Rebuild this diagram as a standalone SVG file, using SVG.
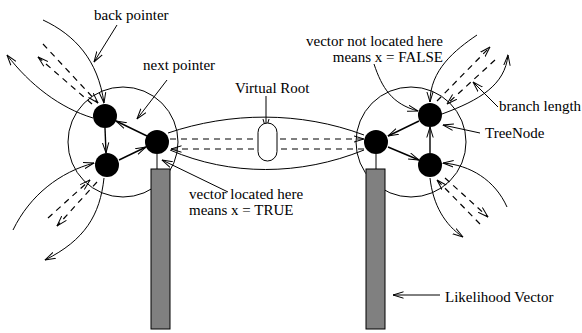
<svg xmlns="http://www.w3.org/2000/svg" width="582" height="333" viewBox="0 0 582 333">
<defs>
<marker id="ah" viewBox="0 0 11 8" refX="10.5" refY="4" markerWidth="11" markerHeight="8" markerUnits="userSpaceOnUse" orient="auto">
<path d="M0,0.8 L10.5,4 L0,7.2" fill="none" stroke="#000" stroke-width="1"/>
</marker>
<style>
.c{fill:none;stroke:#000;stroke-width:1}
.t{fill:none;stroke:#000;stroke-width:1.4}
.d{fill:none;stroke:#000;stroke-width:1.2;stroke-dasharray:6,5}
.a{marker-end:url(#ah)}
.ring{fill:none;stroke:#000;stroke-width:1}
.dot{fill:#000}
.bar{fill:#808080;stroke:#000;stroke-width:1}
.cap{fill:#fff;stroke:#000;stroke-width:1}
text{font-family:"Liberation Serif","Times New Roman",serif;font-size:15px;fill:#000}
</style>
</defs>
<rect width="582" height="333" fill="#fff"/>

<g id="clusters">
<circle class="ring" cx="123" cy="142" r="55"/>
<circle class="ring" cx="411" cy="142" r="55"/>
</g>

<g id="connectors">
<!-- left cluster internal -->
<line class="t a" x1="105" y1="128" x2="106" y2="153"/>
<line class="t a" x1="119" y1="160" x2="146" y2="147"/>
<line class="t a" x1="147" y1="136" x2="116" y2="121"/>
<line class="c" x1="157" y1="154" x2="157" y2="169"/>
<!-- right cluster internal -->
<line class="t a" x1="419" y1="121" x2="388" y2="136"/>
<line class="t a" x1="388" y1="147" x2="419" y2="160"/>
<line class="t a" x1="430" y1="153" x2="430" y2="127"/>
<line class="c" x1="376" y1="154" x2="376" y2="169"/>
<!-- middle branch -->
<path class="c" d="M168,133 C230,112 300,111 364,135"/>
<path class="c" d="M170,150 C230,176 300,176 364,150"/>
<line class="d a" x1="170" y1="139" x2="364" y2="139"/>
<line class="d a" x1="364" y1="149" x2="171" y2="149"/>
<!-- left top branch -->
<path class="c a" d="M43,20 C75,35 98,60 104,103"/>
<path class="c a" d="M93,118 C60,108 30,85 7,55"/>
<line class="d a" x1="92" y1="104" x2="38" y2="57"/>
<line class="d a" x1="43" y1="44" x2="98" y2="103"/>
<!-- left bottom branch -->
<path class="c a" d="M13,230 C30,195 60,172 94,163"/>
<path class="c a" d="M104,178 C100,215 85,240 45,260"/>
<line class="d a" x1="97" y1="182" x2="57" y2="226"/>
<line class="d a" x1="48" y1="218" x2="90" y2="180"/>
<!-- right top branch -->
<path class="c a" d="M477,35 C455,50 430,70 430,102"/>
<path class="c a" d="M442,114 C480,100 505,85 508,55"/>
<line class="d a" x1="437" y1="101" x2="490" y2="47"/>
<line class="d a" x1="495" y1="60" x2="447" y2="104"/>
<!-- right bottom branch -->
<path class="c a" d="M507,207 C495,180 470,165 443,163"/>
<path class="c a" d="M430,178 C433,205 445,225 463,237"/>
<line class="d a" x1="445" y1="178" x2="488" y2="217"/>
<line class="d a" x1="480" y1="224" x2="437" y2="180"/>
<!-- label pointers -->
<line class="c a" x1="117" y1="25" x2="94" y2="62"/>
<line class="c a" x1="167" y1="80" x2="137" y2="119"/>
<line class="c a" x1="266" y1="96" x2="266" y2="129"/>
<line class="c a" x1="228" y1="192" x2="162" y2="160"/>
<path class="c a" d="M374,64 C382,88 392,104 418,111"/>
<line class="c a" x1="498" y1="107" x2="473" y2="82"/>
<line class="c a" x1="480" y1="133" x2="443" y2="125"/>
<line class="c a" x1="440" y1="295" x2="393" y2="295"/>
</g>

<g id="virtual-root"><rect class="cap" x="258" y="123" width="19" height="38" rx="9.5"/></g>

<g id="node-L1"><circle class="dot" cx="105" cy="116" r="12"/></g>
<g id="node-L2"><circle class="dot" cx="107" cy="165" r="12"/></g>
<g id="node-L3"><circle class="dot" cx="157" cy="142" r="12"/></g>
<g id="node-R1"><circle class="dot" cx="376" cy="142" r="12"/></g>
<g id="node-R2"><circle class="dot" cx="430" cy="115" r="12"/></g>
<g id="node-R3"><circle class="dot" cx="430" cy="165" r="12"/></g>

<g id="vector-left"><rect class="bar" x="151" y="169" width="19" height="160"/></g>
<g id="vector-right"><rect class="bar" x="366" y="169" width="19" height="160"/></g>

<g id="labels">
<text x="94" y="20">back pointer</text>
<text x="143" y="70">next pointer</text>
<text x="235" y="93">Virtual Root</text>
<text x="189" y="199">vector located here</text>
<text x="189" y="215">means x = TRUE</text>
<text x="443" y="46" text-anchor="end">vector not located here</text>
<text x="443" y="62" text-anchor="end">means x = FALSE</text>
<text x="499" y="111">branch length</text>
<text x="485" y="138">TreeNode</text>
<text x="445" y="302">Likelihood Vector</text>
</g>
</svg>
